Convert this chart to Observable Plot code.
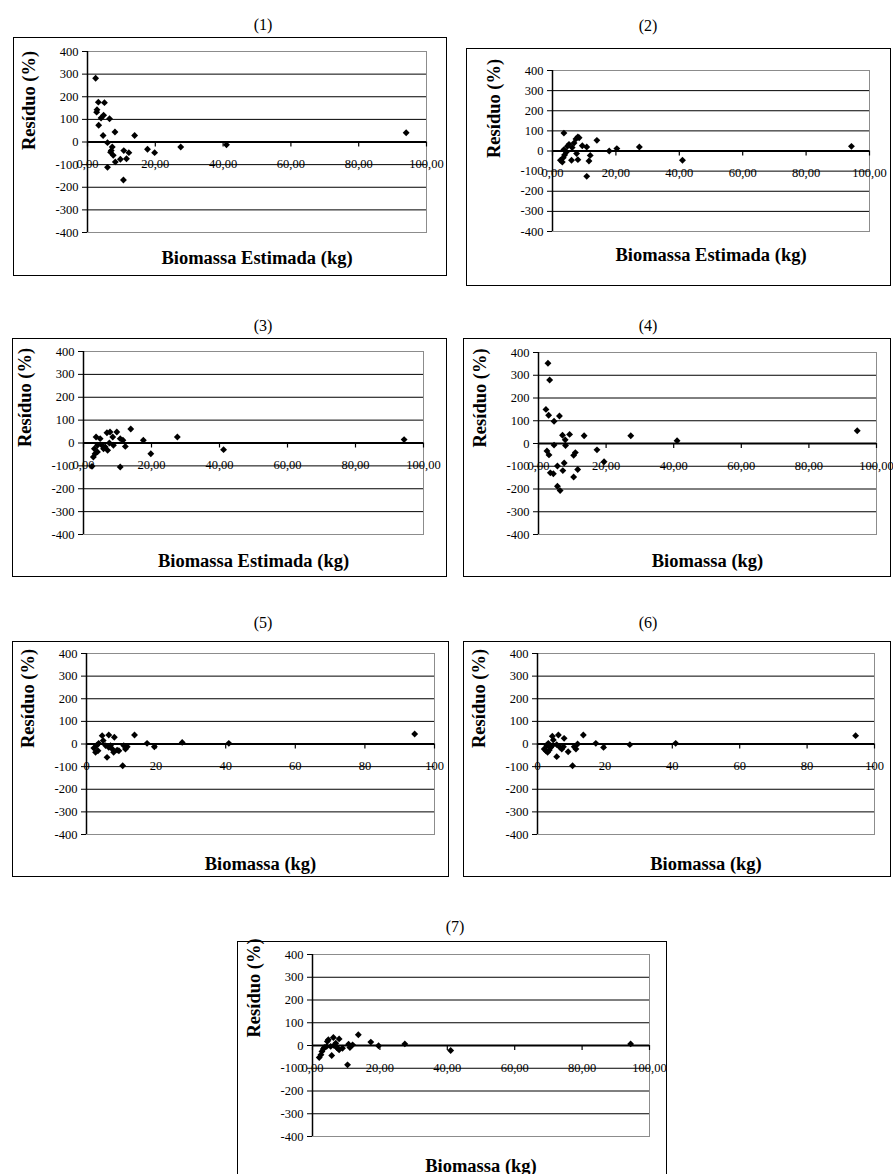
<!DOCTYPE html>
<html><head><meta charset="utf-8">
<script src="https://cdn.jsdelivr.net/npm/d3@7"></script>
<script src="https://cdn.jsdelivr.net/npm/@observablehq/plot@0.6"></script>
<style>
body{margin:0;background:#fff;}
#page{position:relative;width:893px;height:1174px;overflow:hidden;background:#fff;font-family:"Liberation Serif","Times New Roman",serif;}
.box{position:absolute;border:1.5px solid #000;box-sizing:border-box;pointer-events:none;}
.ttl{position:absolute;font-size:16px;transform:translate(-50%,-50%);white-space:nowrap;color:#000;font-family:"Liberation Serif","Times New Roman",serif;}
#page svg{position:absolute;overflow:visible;}
#page svg text{font-family:"Liberation Serif","Times New Roman",serif !important;}
</style></head><body><div id="page"></div>
<script>
// ---- data ----
const yTicks = [-400, -300, -200, -100, 0, 100, 200, 300, 400];
const xTicks = [0, 20, 40, 60, 80, 100];
const panelTitles = ["(1)", "(2)", "(3)", "(4)", "(5)", "(6)", "(7)"];
const xTitles = ["Biomassa Estimada (kg)", "Biomassa Estimada (kg)", "Biomassa Estimada (kg)", "Biomassa (kg)", "Biomassa (kg)", "Biomassa (kg)", "Biomassa (kg)"];
const yTitle = "Resíduo (%)";

const x1 = [2.4, 3.2, 5.0, 2.8, 2.7, 4.0, 4.75, 6.5, 3.3, 4.6, 8.1, 5.9, 13.9, 7.3, 7.0, 7.6, 6.8, 5.9, 8.2, 9.7, 10.7, 11.5, 12.2, 10.6, 17.7, 19.8, 27.5, 41, 94];
const y1 = [282, 176, 174, 143, 132, 106, 118, 103, 74, 29, 44, -3, 29, -22, -38, -59, -45, -112, -88, -76, -38, -74, -47, -168, -32, -47, -22, -12, 41];

const x2 = [3.6, 14, 8.0, 7.4, 8.4, 6.8, 4.7, 5.2, 6.2, 9.4, 10.8, 3.6, 7.6, 8.0, 6.0, 11.9, 11.5, 10.8, 3.1, 2.5, 3.4, 3.8, 4.4, 17.9, 20.3, 27.4, 41, 94.3];
const y2 = [89, 53, 70, 60, 66, 40, 23, 33, 17, 26, 20, 7, -13, -43, -46, -22, -50, -126, -55, -46, -33, -20, -5, 0, 12, 20, -46, 23];

const x3 = [94.3, 41.2, 27.6, 17.6, 19.8, 13.9, 10.8, 2.5, 9.8, 7.8, 6.9, 8.6, 10.8, 11.6, 12.3, 3.7, 4.9, 2.9, 3.4, 4.1, 3.2, 4.1, 5.4, 6.4, 7.1, 5.9, 7.6, 8.8];
const y3 = [15, -29, 26, 12, -47, 61, -105, -102, 48, 48, 45, 26, 19, 12, -15, 26, 19, -61, -47, -39, -25, -10, -10, -17, -32, -25, 0, -10];

const x4 = [2.8, 3.3, 2.2, 3.0, 6.2, 4.6, 7.1, 9.2, 7.9, 8.0, 4.6, 13.5, 27.3, 41, 94.3, 2.5, 3.1, 17.3, 19.4, 10.9, 10.4, 11.6, 10.4, 7.6, 7.2, 5.6, 3.5, 4.4, 5.6, 6.4];
const y4 = [353, 279, 150, 124, 121, 98, 36, 40, 16, -9, -7, 34, 34, 12, 56, -33, -50, -28, -80, -40, -52, -114, -147, -86, -119, -99, -129, -133, -188, -207];

const x5 = [94.3, 40.9, 27.5, 17.4, 19.5, 13.8, 10.4, 5.9, 6.4, 8.0, 4.5, 4.8, 2.1, 2.6, 2.9, 3.5, 3.3, 5.5, 6.4, 6.9, 7.4, 7.8, 8.8, 9.3, 10.7, 11.2, 11.7];
const y5 = [44, 3, 7, 3, -12, 40, -96, -59, 40, 30, 37, 15, -18, -37, -7, 3, -30, -7, -15, -7, -22, -37, -27, -30, -7, -22, -12];

const x6 = [94.4, 41, 27.4, 17.3, 19.6, 13.6, 10.4, 5.7, 6.2, 7.9, 4.4, 4.7, 2.0, 2.5, 3.0, 3.5, 2.8, 3.2, 3.9, 4.4, 5.7, 6.7, 7.2, 7.7, 9.1, 10.9, 11.4, 11.9];
const y6 = [37, 3, -3, 3, -15, 40, -96, -56, 40, 25, 34, 18, -22, -30, -37, -27, -7, 3, -15, -7, -3, -15, -22, -12, -34, -12, -22, 0];

const x7 = [94.4, 41, 27.4, 17.3, 19.6, 13.6, 10.4, 5.7, 6.2, 7.9, 4.4, 4.7, 2.0, 2.5, 2.8, 3.2, 3.5, 4.2, 5.4, 6.4, 7.2, 7.7, 7.9, 8.9, 10.7, 11.1, 11.9, 6.9];
const y7 = [7, -22, 7, 15, -1, 47, -85, -44, 35, 29, 18, 25, -53, -41, -26, -15, -9, -4, -4, 0, -9, -15, -19, -12, 6, -9, 3, 10];

const seriesX = [x1, x2, x3, x4, x5, x6, x7];
const seriesY = [y1, y2, y3, y4, y5, y6, y7];

// ---- layout (pixels) ----
const fmtComma = d => d.toFixed(2).replace(".", ",");
const fmtInt = d => String(d);
const layouts = [
  {box: [13, 37, 447, 276], plot: [87, 51, 426, 232], tx: 263, ty: 25, xdy: 31, ydy: 8, fmt: fmtComma},
  {box: [466, 48, 891, 286], plot: [552, 70, 869, 231], tx: 648, ty: 26, xdy: 29, ydy: 7, fmt: fmtComma},
  {box: [12, 338, 447, 577], plot: [83, 351, 423, 534], tx: 263, ty: 326, xdy: 32, ydy: 4, fmt: fmtComma},
  {box: [463, 338, 891, 577], plot: [538, 352, 876, 534], tx: 648, ty: 326, xdy: 32, ydy: 4, fmt: fmtComma},
  {box: [12, 641, 449, 877], plot: [86, 653, 434, 834], tx: 263, ty: 623, xdy: 35, ydy: 4, fmt: fmtInt},
  {box: [463, 641, 891, 877], plot: [537, 653, 874, 834], tx: 648, ty: 623, xdy: 35, ydy: 4, fmt: fmtInt},
  {box: [237, 941, 667, 1190], plot: [312, 954, 649, 1136], tx: 455, ty: 927, xdy: 35, ydy: -8, fmt: fmtComma}
];

const page = document.getElementById("page");
const FONT = '"Liberation Serif","Times New Roman",serif';

layouts.forEach((L, i) => {
  const [bl, bt, br, bb] = L.box;
  const [pl, pt, pr, pb] = L.plot;
  const data = seriesX[i].map((x, k) => ({x, y: seriesY[i][k]}));
  const gridY = yTicks.filter(d => d !== 0 && Math.abs(d) !== 400);
  const svg = Plot.plot({
    width: br - bl,
    height: bb - bt,
    marginLeft: pl - bl,
    marginTop: pt - bt,
    marginRight: br - pr,
    marginBottom: bb - pb,
    style: {fontFamily: FONT, fontSize: "12.5px", color: "#000", background: "transparent", overflow: "visible"},
    x: {domain: [0, 100], axis: null},
    y: {domain: [-400, 400], axis: null},
    marks: [
      Plot.ruleY(gridY, {stroke: "#000", strokeWidth: 1}),
      Plot.frame({stroke: "#8c8c8c", strokeWidth: 1}),
      Plot.axisY(yTicks, {tickSize: 5, tickPadding: 4, label: null, tickFormat: fmtInt, fontSize: 12.5, fontFamily: FONT, stroke: "#000", strokeWidth: 1}),
      Plot.ruleX([0], {stroke: "#000", strokeWidth: 1.5}),
      Plot.ruleX(xTicks, {x: d => d, y1: 0, y2: 0, insetTop: 0, insetBottom: -5, stroke: "#000", strokeWidth: 1.2}),
      Plot.ruleY([0], {stroke: "#000", strokeWidth: 2}),
      Plot.text(xTicks, {x: d => d, y: 0, text: d => L.fmt(d), dy: 22, lineAnchor: "middle", fontSize: 12.5, fontFamily: FONT, fill: "#000"}),
      Plot.dot(data, {x: "x", y: "y", symbol: "diamond2", r: 3.1, fill: "#000", stroke: "none"}),
      Plot.text([yTitle], {frameAnchor: "left", text: d => d, rotate: -90, dx: -58, dy: L.ydy, fontWeight: "bold", fontSize: 18.5, fontFamily: FONT, fill: "#000"}),
      Plot.text([xTitles[i]], {frameAnchor: "bottom", text: d => d, dy: L.xdy, lineAnchor: "bottom", fontWeight: "bold", fontSize: 18.5, fontFamily: FONT, fill: "#000"})
    ]
  });
  svg.style.left = bl + "px";
  svg.style.top = bt + "px";
  page.appendChild(svg);

  const box = document.createElement("div");
  box.className = "box";
  box.style.left = bl + "px";
  box.style.top = bt + "px";
  box.style.width = (br - bl) + "px";
  box.style.height = (bb - bt) + "px";
  page.appendChild(box);

  const t = document.createElement("div");
  t.className = "ttl";
  t.textContent = panelTitles[i];
  t.style.left = L.tx + "px";
  t.style.top = L.ty + "px";
  page.appendChild(t);
});
</script>
</body></html>
